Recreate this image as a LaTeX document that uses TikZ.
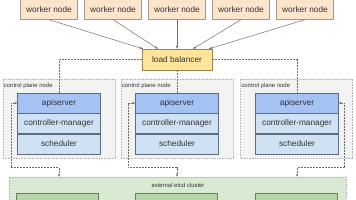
\documentclass[tikz,border=0pt]{standalone}
\usepackage{fontspec}
\setmainfont{Liberation Sans}
\usepackage{tikz}
\usetikzlibrary{positioning,arrows.meta,calc}
\definecolor{ink}{HTML}{333333}
\definecolor{wire}{HTML}{6E6E6E}
\definecolor{wkfill}{HTML}{FCE5CD}
\definecolor{wkline}{HTML}{A39A8E}
\definecolor{lbfill}{HTML}{FFE599}
\definecolor{lbline}{HTML}{9A8550}
\definecolor{cpfill}{HTML}{F3F3F3}
\definecolor{cpline}{HTML}{B5B5B5}
\definecolor{apifill}{HTML}{A4C2F4}
\definecolor{rowfill}{HTML}{CFE2F3}
\definecolor{rowline}{HTML}{5F6B80}
\definecolor{etfill}{HTML}{D9EAD3}
\definecolor{ethost}{HTML}{B6D7A8}
\definecolor{etline}{HTML}{6A7F62}

\begin{document}
\begin{tikzpicture}[x=1pt, y=-1pt,
  font=\fontsize{8.3}{10}\selectfont, text=ink,
  wk/.style={draw=wkline, fill=wkfill, minimum width=57pt, minimum height=20pt, inner sep=0pt},
  lb/.style={draw=lbline, fill=lbfill, minimum width=70pt, minimum height=21pt, inner sep=0pt},
  cp/.style={draw=cpline, fill=cpfill, dash pattern=on 0.8pt off 0.8pt, minimum width=112pt, minimum height=79pt, inner sep=0pt},
  row/.style={draw=rowline, fill=rowfill, minimum width=83pt, minimum height=20pt, inner sep=0pt},
  api/.style={row, fill=apifill},
  tag/.style={font=\fontsize{5.9}{7}\selectfont, inner sep=1pt},
  et/.style={draw=cpline, fill=etfill, dash pattern=on 0.8pt off 0.8pt, minimum width=337pt, minimum height=40pt, inner sep=0pt},
  host/.style={draw=etline, fill=ethost, minimum width=82pt, minimum height=30pt, inner sep=0pt},
  arr/.style={-{Stealth[length=3.5pt, width=2.6pt]}, draw=wire, line width=0.5pt},
  dl/.style={draw=wire, line width=0.6pt, dash pattern=on 2pt off 1pt},
  dla/.style={dl, {Stealth[length=3pt, width=2.4pt]}-{Stealth[length=3pt, width=2.4pt]}}]
\useasboundingbox (0,0) rectangle (356,200);
\clip (0,0) rectangle (356,200);
% worker row
\node[wk] (w1) at (49, 9.5)  {worker node};
\node[wk] (w2) at (113, 9.5) {worker node};
\node[wk] (w3) at (177, 9.5) {worker node};
\node[wk] (w4) at (241, 9.5) {worker node};
\node[wk] (w5) at (305, 9.5) {worker node};
\node[lb] (lb) at (177, 59.5) {load balancer};
% control plane nodes
\node[cp] (cp1) at (59, 118.5)  {};
\node[cp] (cp2) at (177, 118.5) {};
\node[cp] (cp3) at (296.5, 118.5) {};
\node[tag, anchor=west] (t1) at (cp1.west |- 0,86) {control plane node};
\node[tag, anchor=west] (t2) at (cp2.west |- 0,86) {control plane node};
\node[tag, anchor=west] (t3) at (cp3.west |- 0,86) {control plane node};
% etcd cluster, cut by the bottom edge
\node[et] (etcd) at (177.5, 197) {};
\node[tag] (etl) at (178, 185) {external etcd cluster};
\node[host] (h1) at (57.5, 208)  {};
\node[host] (h2) at (176.5, 208) {};
\node[host] (h3) at (296.5, 208) {};
% component stacks
\node[api] (api1) at (59, 103) {apiserver};
\node[row, below=0pt of api1] (cm1) {controller-manager};
\node[row, below=0pt of cm1] (sch1) {scheduler};
\node[api] (api2) at (177, 103) {apiserver};
\node[row, below=0pt of api2] (cm2) {controller-manager};
\node[row, below=0pt of cm2] (sch2) {scheduler};
\node[api] (api3) at (297, 103) {apiserver};
\node[row, below=0pt of api3] (cm3) {controller-manager};
\node[row, below=0pt of cm3] (sch3) {scheduler};
% workers into the load balancer
\draw[arr] (w1.south) -- ($(lb.north)+(-34,0)$);
\draw[arr] (w2.south) -- ($(lb.north)+(-19,0)$);
\draw[arr] (w3.south) -- (lb.north);
\draw[arr] (w4.south) -- ($(lb.north)+(16,0)$);
\draw[arr] (w5.south) -- ($(lb.north)+(32,0)$);
% load balancer to each apiserver
\draw[dl] (lb.west) -| (api1.north);
\draw[dl] (lb.south) -- (api2.north);
\draw[dl] (lb.east) -| (api3.north);
% apiservers to etcd
\draw[dla] (api1.west) -- ++(-6,0) |- ($(api1 |- etcd.north)+(0,-9)$) -- (api1 |- etcd.north);
\draw[dla] (api2.west) -- ++(-7,0) |- ($(api2 |- etcd.north)+(0,-9)$) -- (api2 |- etcd.north);
\draw[dla] (api3.east) -- ++(6,0) |- ($(api3 |- etcd.north)+(0,-9)$) -- (api3 |- etcd.north);
\end{tikzpicture}
\end{document}
